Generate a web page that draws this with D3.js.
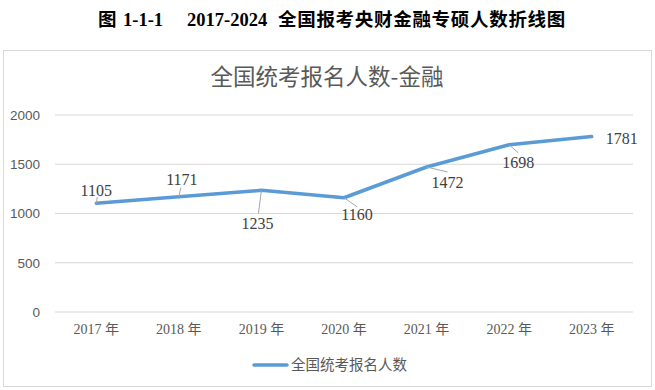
<!DOCTYPE html>
<html><head><meta charset="utf-8">
<script src="https://cdn.jsdelivr.net/npm/d3@7"></script>
<style>body{margin:0;background:#fff}svg{display:block}</style>
</head><body>
<svg id="c" width="655" height="390"></svg>
<script>
const categories = ["2017 年","2018 年","2019 年","2020 年","2021 年","2022 年","2023 年"];
const values = [1105,1171,1235,1160,1472,1698,1781];
const yTicks = [0,500,1000,1500,2000];
const seriesName = "全国统考报名人数";
const chartTitle = "全国统考报名人数-金融";
const captionParts = ["图","1-1-1","2017-2024","全国报考央财金融专硕人数折线图"];
// label placement offsets (dx, dy from point) and leader lines
const labelOffsets = [[0,-13],[3,-17],[-4,33],[13,17],[21,15],[9,18],[30,2]];
const leaderEnds = [[1,-6],[2,-9],[-3,23],[13,9],[21,5],[9,8],null];

const svg = d3.select("#c");
const serif = "'Liberation Serif','Times New Roman','Noto Sans CJK SC',serif";
const sans = "'Noto Sans CJK SC','Noto Sans',sans-serif";

// figure caption
const capX = [98,123,187,278];
svg.append("g").selectAll("text").data(captionParts).join("text")
  .attr("x",(d,i)=>capX[i]).attr("y",26)
  .attr("font-family","'Liberation Serif','Noto Sans CJK SC',serif").attr("font-weight","bold")
  .attr("font-size",18.5).attr("letter-spacing",(d,i)=>i===3?0.7:0).attr("fill","#000")
  .text(d=>d);

// chart frame
svg.append("rect").attr("x",3.5).attr("y",50.5).attr("width",648).attr("height",336)
  .attr("fill","#fff").attr("stroke","#d9d9d9").attr("stroke-width",1);

svg.append("text").attr("x",327).attr("y",85).attr("text-anchor","middle")
  .attr("font-family",sans).attr("font-size",22.5).attr("fill","#595959").text(chartTitle);

const x = d3.scaleBand().domain(categories).range([55,633]);
const y = d3.scaleLinear().domain([0,2000]).range([312,115]);

// gridlines
svg.append("g").selectAll("line").data(yTicks).join("line")
  .attr("x1",55).attr("x2",633).attr("y1",d=>y(d)).attr("y2",d=>y(d))
  .attr("stroke","#d9d9d9").attr("stroke-width",1.2);

// y axis
const yAxis = d3.axisLeft(y).tickValues(yTicks).tickFormat(d3.format("d")).tickSize(0).tickPadding(0);
const gy = svg.append("g").attr("transform","translate(40,0)").call(yAxis);
gy.select(".domain").remove();
gy.selectAll("text").attr("font-family","'Liberation Sans','Noto Sans',sans-serif").attr("font-size",13.5).attr("fill","#595959");

// x axis
const xAxis = d3.axisBottom(x).tickSize(0).tickPadding(0);
const gx = svg.append("g").attr("transform","translate(0,324)").call(xAxis);
gx.select(".domain").remove();
gx.selectAll("text").attr("font-family",serif).attr("font-size",14).attr("fill","#595959");

const px = (d,i)=>x(categories[i])+x.bandwidth()/2;

// line
const line = d3.line().x((d,i)=>px(d,i)).y(d=>y(d));
svg.append("path").datum(values).attr("d",line).attr("fill","none")
  .attr("stroke","#5b9bd5").attr("stroke-width",3.5).attr("stroke-linejoin","round").attr("stroke-linecap","round");

// leader lines
svg.append("g").selectAll("line").data(values).join("line")
  .filter((d,i)=>leaderEnds[i])
  .attr("x1",(d,i)=>px(d,i)).attr("y1",d=>y(d))
  .attr("x2",(d,i)=>px(d,i)+leaderEnds[i][0]).attr("y2",(d,i)=>y(d)+leaderEnds[i][1])
  .attr("stroke","#a6a6a6").attr("stroke-width",1);

// data labels
svg.append("g").selectAll("text").data(values).join("text")
  .attr("x",(d,i)=>px(d,i)+labelOffsets[i][0]).attr("y",(d,i)=>y(d)+labelOffsets[i][1])
  .attr("dy","0.35em").attr("text-anchor","middle")
  .attr("font-family",serif).attr("font-size",16).attr("fill","#404040")
  .text(d=>d);

// legend
svg.append("line").attr("x1",254).attr("x2",287).attr("y1",365).attr("y2",365)
  .attr("stroke","#5b9bd5").attr("stroke-width",3.5).attr("stroke-linecap","round");
svg.append("text").attr("x",291).attr("y",365).attr("dy","0.35em")
  .attr("font-family",sans).attr("font-size",14.5).attr("fill","#595959").text(seriesName);
</script>
</body></html>
